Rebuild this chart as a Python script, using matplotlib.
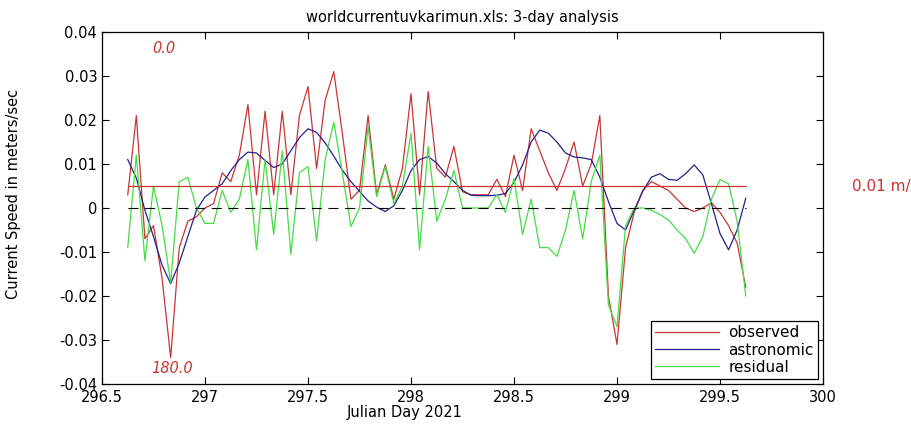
import numpy as np
import matplotlib
matplotlib.use("Agg")
import matplotlib.pyplot as plt

# ---- data (hourly samples) ----
start_day = 296.625
step_day = 1.0 / 24.0
observed = [0.003, 0.021, -0.007, -0.004, -0.016, -0.034, -0.009, -0.003, -0.002, 0.000,
            0.001, 0.008, 0.006, 0.012, 0.0235, 0.003, 0.022, 0.003, 0.022, 0.003,
            0.021, 0.0276, 0.009, 0.0245, 0.031, 0.017, 0.002, 0.004, 0.021, 0.003,
            0.0098, 0.002, 0.009, 0.026, 0.003, 0.0265, 0.009, 0.007, 0.014, 0.0037,
            0.003, 0.003, 0.003, 0.0065, 0.0026, 0.012, 0.004, 0.018, 0.013, 0.008,
            0.004, 0.009, 0.015, 0.005, 0.010, 0.021, -0.020, -0.031, -0.009, -0.001,
            0.004, 0.006, 0.005, 0.004, 0.002, 0.000, -0.0008, 0.000, 0.0012, -0.001,
            -0.004, -0.008, -0.018]
astronomic = [0.011, 0.0068, -0.0005, -0.0065, -0.013, -0.0172, -0.0125, -0.0065, -0.0005, 0.0025,
              0.004, 0.0055, 0.0085, 0.011, 0.0127, 0.0125, 0.0108, 0.0092, 0.010, 0.013,
              0.016, 0.018, 0.0172, 0.0148, 0.0118, 0.0086, 0.006, 0.0038, 0.0016, 0.0002,
              -0.0008, 0.0005, 0.004, 0.0085, 0.011, 0.0117, 0.0102, 0.0078, 0.006, 0.004,
              0.0029, 0.0028, 0.0028, 0.0029, 0.0033, 0.0058, 0.0098, 0.015, 0.0177, 0.017,
              0.015, 0.0125, 0.0116, 0.0114, 0.011, 0.007, 0.0015, -0.0035, -0.005, -0.0005,
              0.0038, 0.007, 0.0078, 0.0065, 0.0063, 0.0078, 0.0098, 0.0075, 0.001, -0.0058,
              -0.0095, -0.005, 0.0022]
residual = [-0.009, 0.012, -0.012, 0.005, -0.004, -0.017, 0.006, 0.007, 0.000, -0.0035,
            -0.0035, 0.004, -0.001, 0.002, 0.011, -0.0095, 0.011, -0.006, 0.013, -0.0105,
            0.008, 0.0094, -0.0075, 0.011, 0.0195, 0.008, -0.0042, 0.000, 0.0185, 0.0026,
            0.0094, 0.001, 0.005, 0.017, -0.0095, 0.014, -0.003, 0.002, 0.0085, 0.000,
            0.000, 0.000, 0.000, 0.003, -0.001, 0.0067, -0.006, 0.002, -0.009, -0.009,
            -0.011, -0.005, 0.004, -0.007, 0.006, 0.012, -0.022, -0.027, -0.004, 0.000,
            0.000, -0.0005, -0.0015, -0.0027, -0.005, -0.007, -0.0103, -0.0065, 0.002, 0.0065,
            0.0055, -0.003, -0.020]
mean_level = 0.005
series_names = ["observed", "astronomic", "residual"]
xticks = [296.5, 297, 297.5, 298, 298.5, 299, 299.5, 300]
xtick_labels = ["296.5", "297", "297.5", "298", "298.5", "299", "299.5", "300"]
yticks = [-0.04, -0.03, -0.02, -0.01, 0, 0.01, 0.02, 0.03, 0.04]
ytick_labels = ["-0.04", "-0.03", "-0.02", "-0.01", "0", "0.01", "0.02", "0.03", "0.04"]

days = start_day + step_day * np.arange(len(observed))

RED = "#c83535"
BLUE = "#22228c"
GREEN = "#44dd44"

plt.rcParams["font.family"] = ["DejaVu Sans"]
fig = plt.figure(figsize=(9.12, 4.25), dpi=100)
ax = fig.add_axes([102 / 912, 1 - 384 / 425, (823 - 102) / 912, (384 - 32) / 425])

ax.plot(days, observed, color=RED, lw=0.9, label=series_names[0])
ax.plot(days, astronomic, color=BLUE, lw=0.9, label=series_names[1])
ax.plot(days, residual, color=GREEN, lw=0.9, label=series_names[2])
ax.plot([days[0], days[-1]], [mean_level, mean_level], color=RED, lw=0.9)
ax.plot([days[0], days[-1]], [0, 0], color="black", lw=0.8, ls=(0, (9, 6)))

ax.set_xlim(296.5, 300)
ax.set_ylim(-0.04, 0.04)
ax.set_xticks(xticks)
ax.set_xticklabels(xtick_labels)
ax.set_yticks(yticks)
ax.set_yticklabels(ytick_labels)
ax.tick_params(direction="in", length=5, top=True, right=True, labelsize=10.5, width=0.8)
ax.tick_params(axis="x", pad=4)
for sp in ax.spines.values():
    sp.set_linewidth(0.9)

ax.set_title("worldcurrentuvkarimun.xls: 3-day analysis", fontsize=10.5, pad=7)
ax.set_xlabel("Julian Day 2021", fontsize=10.5)
ax.xaxis.set_label_coords(0.42, -0.06)
ax.set_ylabel("Current Speed in meters/sec", fontsize=10.5)
ax.yaxis.set_label_coords(-0.112, 0.54)

ax.text(296.745, 0.0362, "0.0", color=RED, fontsize=10.5, style="italic", va="center")
ax.text(296.74, -0.0364, "180.0", color=RED, fontsize=10.5, style="italic", va="center")
ax.text(300.14, 0.0048, "0.01 m/s", color=RED, fontsize=11, va="center", clip_on=False)

leg = ax.legend(loc="lower right", fontsize=11, frameon=True, fancybox=False,
                edgecolor="black", framealpha=1, borderaxespad=0.3, handlelength=4.2,
                handletextpad=0.6, labelspacing=0.15, borderpad=0.3)
leg.get_frame().set_linewidth(0.9)

fig.savefig("out.png", dpi=100)
